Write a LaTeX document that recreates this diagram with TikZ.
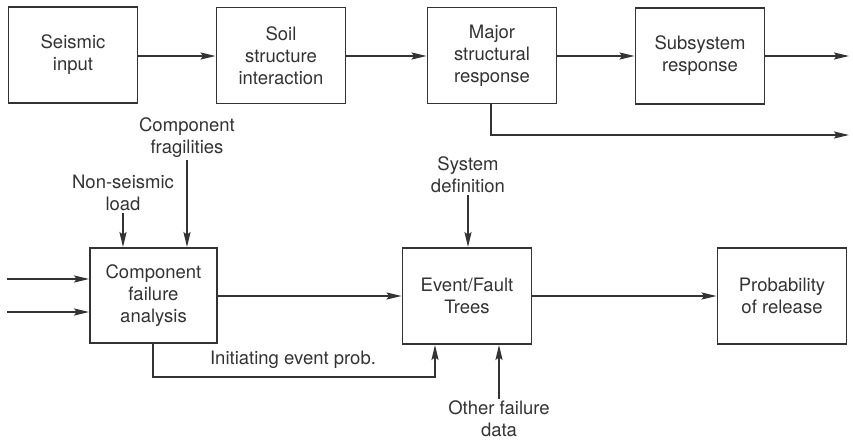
\documentclass[tikz,border=0pt]{standalone}
\usepackage{fontspec}
\setmainfont{TeX Gyre Heros}
\usetikzlibrary{arrows.meta}
\definecolor{ink}{HTML}{333333}
\tikzset{
  box/.style={draw=ink, line width=1.8pt, minimum width=129pt, minimum height=96pt, inner sep=0pt, align=center, text=ink, font=\fontsize{18.5}{22}\selectfont},
  lbl/.style={inner sep=2pt, align=center, text=ink, font=\fontsize{18.5}{22}\selectfont},
  conn/.style={draw=ink, line width=1.8pt, -{Stealth[length=15pt,width=7pt,inset=2.5pt]}},
  line/.style={draw=ink, line width=1.8pt}
}
\begin{document}
\begin{tikzpicture}[x=1pt,y=-1pt]
\useasboundingbox (0,0) rectangle (853,442);
% top row
\node[box] (seis) at (73,55) {Seismic\\input};
\node[box] (soil) at (281,55.5) {Soil\\structure\\interaction};
\node[box] (major) at (492,55.5) {Major\\structural\\response};
\node[box] (subs) at (700,56) {Subsystem\\response};
\coordinate (subsout) at (849,56);
\coordinate (majturn) at (491,135);
\coordinate (majout) at (849,135);
\draw[conn] (seis.east |- 0,56) -- (soil.west |- 0,56);
\draw[conn] (soil.east |- 0,56) -- (major.west |- 0,56);
\draw[conn] (major.east |- 0,56) -- (subs.west |- 0,56);
\draw[conn] (subs.east |- subsout) -- (subsout);
\draw[conn] (major.south -| majturn) -- (majturn) -- (majout);
% bottom row
\node[box, minimum width=127pt, minimum height=95pt] (comp) at (153.5,295.5) {Component\\failure\\analysis};
\node[box] (event) at (467,296) {Event/Fault\\Trees};
\node[box] (prob) at (782,296) {Probability\\of release};
\coordinate (in1) at (7,279);
\coordinate (in2) at (7,312);
\draw[conn] (in1) -- (comp.west |- in1);
\draw[conn] (in2) -- (comp.west |- in2);
\draw[conn] (comp.east |- 0,296) -- (event.west |- 0,296);
\draw[conn] (event.east |- 0,296) -- (prob.west |- 0,296);
% labels
\node[lbl] (frag) at (187,138) {Component\\fragilities};
\node[lbl] (nonseis) at (123,193) {Non-seismic\\load};
\node[lbl] (sysdef) at (468,175) {System\\definition};
\node[lbl] (other) at (499,419) {Other failure\\data};
\node[lbl] (init) at (293,360) {Initiating event prob.};
\draw[conn] (frag.south) -- (frag.south |- comp.north);
\draw[conn] (nonseis.south) -- (nonseis.south |- comp.north);
\draw[conn] (sysdef.south) -- (sysdef.south |- event.north);
\draw[conn] (other.north) -- (other.north |- event.south);
\coordinate (initdown) at (153,377);
\coordinate (initright) at (435,377);
\draw[conn] (comp.south -| initdown) -- (initdown) -- (initright) -- (initright |- event.south);
\end{tikzpicture}
\end{document}
